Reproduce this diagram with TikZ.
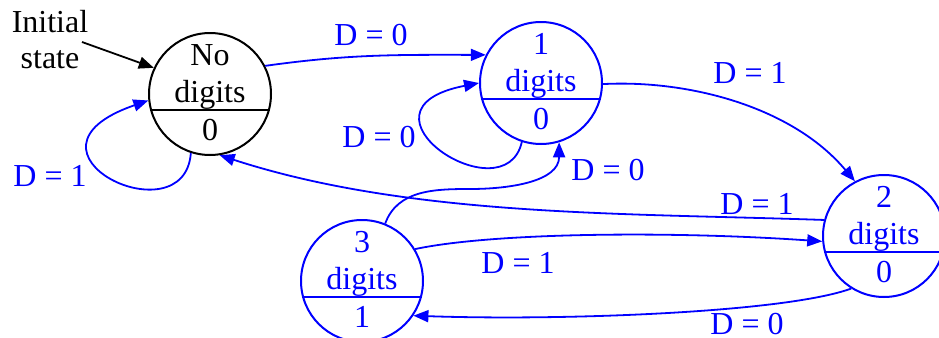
\documentclass[tikz,border=0pt]{standalone}
\usepackage{fontspec}
\setmainfont{Liberation Serif}
\usetikzlibrary{arrows.meta}
\definecolor{fsmblue}{RGB}{0,0,255}
\tikzset{
  state/.style={circle, draw, line width=1pt, minimum size=61pt, inner sep=0pt},
  txt/.style={anchor=base, inner sep=0pt},
  lbl/.style={inner sep=0pt, text=fsmblue},
  trans/.style={fsmblue, line width=0.9pt, -{Triangle[length=7.5pt,width=6pt]}},
}
\begin{document}
\begin{tikzpicture}[x=0.5pt, y=0.5pt, font=\fontsize{16}{18}\selectfont]
  \useasboundingbox (0,0) rectangle (939,-338);
  % states
  \node[state] (s0) at (210,-94) {};
  \draw[line width=1pt] (s0.195) -- (s0.-15);
  \node[txt] (s0a) at (210,-65) {No};
  \node[txt] (s0b) at (210,-102) {digits};
  \node[txt] (s0c) at (210,-140) {0};

  \node[state, fsmblue] (s1) at (541,-83) {};
  \draw[fsmblue, line width=1pt] (s1.195) -- (s1.-15);
  \node[txt, fsmblue] (s1a) at (541,-54) {1};
  \node[txt, fsmblue] (s1b) at (541,-91) {digits};
  \node[txt, fsmblue] (s1c) at (541,-129) {0};

  \node[state, fsmblue] (s2) at (884,-236) {};
  \draw[fsmblue, line width=1pt] (s2.195) -- (s2.-15);
  \node[txt, fsmblue] (s2a) at (884,-207) {2};
  \node[txt, fsmblue] (s2b) at (884,-244) {digits};
  \node[txt, fsmblue] (s2c) at (884,-282) {0};

  \node[state, fsmblue] (s3) at (362,-281) {};
  \draw[fsmblue, line width=1pt] (s3.195) -- (s3.-15);
  \node[txt, fsmblue] (s3a) at (362,-252) {3};
  \node[txt, fsmblue] (s3b) at (362,-289) {digits};
  \node[txt, fsmblue] (s3c) at (362,-327) {1};

  % initial state
  \node[align=center, inner sep=0pt] (init) at (50,-40) {Initial\\state};
  \coordinate (initend) at (82,-42);
  \draw[line width=0.9pt, -{Triangle[length=7.5pt,width=6pt]}] (initend) -- (s0.155);

  % transitions
  \draw[trans] (s0.-108) to[out=266, in=199, out distance=43.5pt, in distance=78pt] (s0.186);
  \node[lbl] (l00) at (50,-176) {D = 1};

  \draw[trans] (s0.27) to[out=8, in=180] (s1.153);
  \node[lbl] (l01) at (371,-35) {D = 0};

  \draw[trans] (s1.-108) to[out=257, in=191, out distance=38.5pt, in distance=70pt] (s1.180);
  \node[lbl] (l11) at (379,-137) {D = 0};

  \draw[trans] (s1.-1) to[out=3, in=130, out distance=43pt, in distance=48.5pt] (s2.118);
  \node[lbl] (l12) at (750,-73) {D = 1};

  \draw[trans] (s2.165) to[out=178, in=-18, out distance=100pt, in distance=100pt] (s0.-81);
  \node[lbl] (l20) at (757,-204) {D = 1};

  \coordinate (m31) at (470,-189);
  \draw[trans] (s3.68) to[out=70, in=180] (m31) to[out=0, in=-90] (s1.-73);
  \node[lbl] (l31) at (608,-170) {D = 0};

  \draw[trans] (s3.31) to[out=12, in=176, out distance=40pt, in distance=75pt] (s2.185);
  \node[lbl] (l32) at (518,-263) {D = 1};

  \draw[trans] (s2.238) to[out=200, in=-2, out distance=35pt, in distance=75pt] (s3.-34);
  \node[lbl] (l23) at (747,-324) {D = 0};
\end{tikzpicture}
\end{document}
